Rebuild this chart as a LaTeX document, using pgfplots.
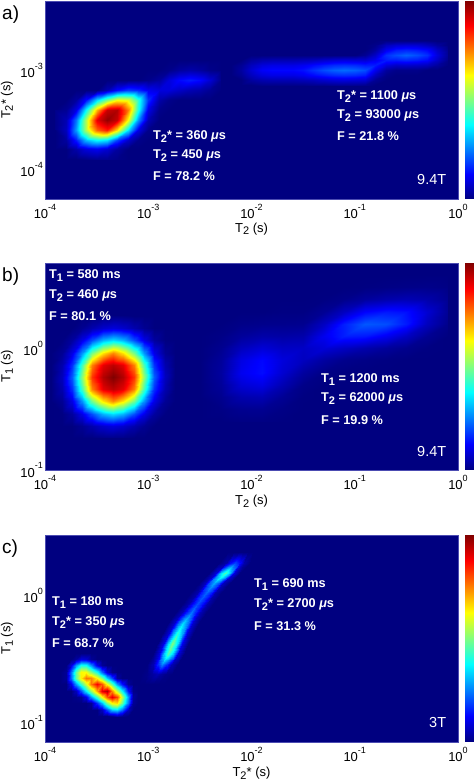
\documentclass[border=0pt]{standalone}
\usepackage{pgfplots}
\pgfplotsset{compat=1.18}
\usepackage{fontspec}
\setmainfont{Liberation Sans}
\newcommand\tp[1]{10\raisebox{.62em}{\fontsize{9}{9}\selectfont #1}}
\newcommand\sub[1]{\raisebox{-.38ex}{\fontsize{11}{11}\selectfont #1}}
\newcommand\us{{\itshape μ}s}
\definecolor{bgblue}{rgb}{0,0,0.502}
\pgfplotsset{
  heatdeco/.style={
    scale only axis, width=413pt,
    xmin=1e-4, xmax=1,
    xtick={1e-4,1e-3,1e-2,1e-1,1},
    xticklabels={\tp{-4},\tp{-3},\tp{-2},\tp{-1},\tp{0}},
    major tick length=0pt, minor tick length=0pt, minor tick num=0,
    tick style={draw=none},
    tick label style={font=\fontsize{13}{13}\selectfont},
    xticklabel style={yshift=-2pt},
    yticklabel style={xshift=1.5pt},
    label style={font=\fontsize{13}{13}\selectfont},
    axis line style={draw=blue!40!gray, line width=.5pt},
    axis background/.style={fill=bgblue},
    axis on top,
    point meta min=0, point meta max=1,
    ylabel style={at={(axis description cs:-0.092,0.5)}, anchor=center, rotate=0},
    xlabel style={at={(axis description cs:0.5,-0.15)}, anchor=center},
  },
  cbardeco/.style={
    scale only axis, width=9pt, xmin=0, xmax=1, ymin=0, ymax=1,
    xtick=\empty, ytick=\empty, axis line style={draw=none},
    point meta min=0, point meta max=1,
  },
}
\begin{document}
\begin{tikzpicture}
\useasboundingbox (0,0) rectangle (474pt,781pt);
% ---------- panel a
\begin{axis}[xmode=log, ymode=log, colormap/jet, heatdeco, at={(45pt,582pt)}, anchor=south west, height=198pt,
  ymin=5e-5, ymax=5e-3, ytick={1e-4,1e-3}, yticklabels={\tp{-4},\tp{-3}},
  xlabel={T\sub{2} (s)}, ylabel={T\sub{2}* (s)}]
\addplot[surf, shader=interp, point meta=explicit, mesh/cols=17] table[row sep=crcr, header=false, meta index=0,
  x expr={10^(-3.9+0.1*mod(\coordindex,17))}, y expr={10^(-2.9-0.1*floor(\coordindex/17))}] {
0\\0\\0\\0\\0\\0\\0\\0\\0\\0\\0\\0\\0\\0\\0\\0\\0\\
0\\0\\0\\0\\0\\0\\0\\0\\0\\0\\0\\0.01\\0.03\\0.04\\0.03\\0.01\\0\\
0\\0\\0\\0\\0\\0\\0\\0\\0\\0.01\\0.03\\0.09\\0.13\\0.15\\0.13\\0.08\\0.01\\
0\\0\\0\\0\\0\\0.05\\0.13\\0.18\\0.16\\0.11\\0.09\\0.09\\0.07\\0.05\\0.04\\0.02\\0\\
0\\0\\0.03\\0.14\\0.35\\0.5\\0.62\\0.6\\0.42\\0.17\\0.04\\0.01\\0\\0\\0\\0\\0\\
0\\0.02\\0.1\\0.38\\0.7\\0.93\\0.95\\0.75\\0.4\\0.1\\0.01\\0\\0\\0\\0\\0\\0\\
0.01\\0.05\\0.24\\0.55\\0.9\\0.98\\0.93\\0.62\\0.27\\0.05\\0\\0\\0\\0\\0\\0\\0\\
0.01\\0.06\\0.28\\0.55\\0.78\\0.85\\0.65\\0.35\\0.1\\0.01\\0\\0\\0\\0\\0\\0\\0\\
0\\0.03\\0.15\\0.31\\0.38\\0.35\\0.19\\0.07\\0.01\\0\\0\\0\\0\\0\\0\\0\\0\\
0\\0\\0.04\\0.09\\0.11\\0.08\\0.03\\0\\0\\0\\0\\0\\0\\0\\0\\0\\0\\
0\\0\\0\\0.01\\0.02\\0.02\\0.01\\0\\0\\0\\0\\0\\0\\0\\0\\0\\0\\
};
\addplot[surf, shader=interp, point meta=explicit, mesh/cols=22] table[row sep=crcr, header=false, meta index=0,
  x expr={10^(-2.2+0.1*mod(\coordindex,22))}, y expr={10^(-2.7-0.05*floor(\coordindex/22))}] {
0\\0\\0\\0\\0\\0\\0\\0\\0\\0\\0\\0\\0\\0\\0\\0.01\\0.01\\0.01\\0.01\\0.01\\0\\0\\
0\\0\\0\\0\\0\\0\\0\\0\\0\\0\\0\\0\\0\\0\\0.01\\0.06\\0.08\\0.085\\0.08\\0.06\\0.03\\0\\
0\\0\\0\\0\\0\\0\\0\\0\\0\\0\\0\\0\\0\\0\\0.03\\0.11\\0.15\\0.16\\0.15\\0.13\\0.07\\0.015\\
0\\0\\0\\0\\0\\0\\0\\0\\0\\0\\0\\0\\0\\0.02\\0.07\\0.17\\0.2\\0.22\\0.2\\0.17\\0.09\\0.02\\
0\\0\\0.03\\0.045\\0.05\\0.05\\0.05\\0.055\\0.06\\0.075\\0.085\\0.09\\0.085\\0.08\\0.11\\0.15\\0.15\\0.16\\0.15\\0.13\\0.07\\0.01\\
0\\0.02\\0.06\\0.09\\0.1\\0.1\\0.1\\0.11\\0.13\\0.15\\0.165\\0.17\\0.165\\0.15\\0.15\\0.09\\0.07\\0.075\\0.07\\0.06\\0.03\\0\\
0\\0.03\\0.08\\0.12\\0.13\\0.13\\0.13\\0.14\\0.17\\0.2\\0.22\\0.23\\0.22\\0.2\\0.11\\0.03\\0.01\\0.01\\0.01\\0\\0\\0\\
0\\0.02\\0.06\\0.09\\0.1\\0.1\\0.1\\0.11\\0.13\\0.15\\0.165\\0.17\\0.165\\0.15\\0.06\\0.01\\0\\0\\0\\0\\0\\0\\
0\\0\\0.03\\0.045\\0.05\\0.05\\0.05\\0.055\\0.06\\0.075\\0.085\\0.09\\0.085\\0.08\\0.02\\0\\0\\0\\0\\0\\0\\0\\
0\\0\\0\\0.01\\0.01\\0.01\\0.01\\0.01\\0.015\\0.015\\0.02\\0.02\\0.02\\0.015\\0\\0\\0\\0\\0\\0\\0\\0\\
};
\end{axis}
\begin{axis}[colormap/jet, cbardeco, at={(464.5pt,582pt)}, anchor=south west, height=198pt]
\addplot[surf, shader=interp, point meta=explicit, mesh/cols=2] table[meta index=2] {
x y m
0 0 0
1 0 0
0 1 1
1 1 1
};
\end{axis}
% ---------- panel b
\begin{axis}[xmode=log, ymode=log, colormap/jet, heatdeco, at={(45pt,311pt)}, anchor=south west, height=207pt,
  ymin=0.1, ymax=5, ytick={0.1,1}, yticklabels={\tp{-1},\tp{0}},
  xlabel={T\sub{2} (s)}, ylabel={T\sub{1} (s)}]
\addplot[surf, shader=interp, point meta=explicit, mesh/cols=13] table[row sep=crcr, header=false, meta index=0,
  x expr={10^(-3.94+0.1*mod(\coordindex,13))}, y expr={10^(0.263-0.1*floor(\coordindex/13))}] {
0\\0\\0\\0\\0\\0.007\\0.008\\0.007\\0\\0\\0\\0\\0\\
0\\0\\0\\0.017\\0.045\\0.075\\0.09\\0.075\\0.045\\0.017\\0\\0\\0\\
0\\0.002\\0.03\\0.1\\0.2\\0.3\\0.34\\0.3\\0.2\\0.1\\0.03\\0.002\\0\\
0\\0.02\\0.1\\0.27\\0.49\\0.65\\0.74\\0.65\\0.49\\0.27\\0.1\\0.02\\0\\
0\\0.045\\0.17\\0.44\\0.75\\0.9\\0.94\\0.9\\0.75\\0.44\\0.17\\0.045\\0\\
0\\0.06\\0.215\\0.51\\0.825\\0.95\\1\\0.95\\0.825\\0.51\\0.215\\0.06\\0\\
0\\0.045\\0.17\\0.44\\0.75\\0.9\\0.94\\0.9\\0.75\\0.44\\0.17\\0.045\\0\\
0\\0.02\\0.1\\0.27\\0.49\\0.65\\0.74\\0.65\\0.49\\0.27\\0.1\\0.02\\0\\
0\\0.002\\0.03\\0.1\\0.2\\0.3\\0.34\\0.3\\0.2\\0.1\\0.03\\0.002\\0\\
0\\0\\0\\0.017\\0.045\\0.075\\0.09\\0.075\\0.045\\0.017\\0\\0\\0\\
0\\0\\0\\0\\0\\0.007\\0.008\\0.007\\0\\0\\0\\0\\0\\
};
\addplot[surf, shader=interp, point meta=explicit, mesh/cols=13] table[row sep=crcr, header=false, meta index=0,
  x expr={10^(-2.5+0.2*mod(\coordindex,13))}, y expr={10^(0.6-0.1*floor(\coordindex/13))}] {
0\\0\\0\\0\\0\\0\\0\\0\\0\\0\\0\\0\\0\\
0\\0\\0\\0\\0\\0\\0\\0\\0.002\\0.005\\0.008\\0.01\\0.005\\
0\\0\\0\\0\\0\\0\\0.002\\0.01\\0.028\\0.042\\0.05\\0.041\\0.016\\
0\\0\\0\\0\\0.003\\0.003\\0.02\\0.065\\0.127\\0.148\\0.139\\0.08\\0.02\\
0\\0\\0.008\\0.012\\0.013\\0.015\\0.066\\0.153\\0.21\\0.2\\0.149\\0.06\\0.01\\
0\\0.006\\0.026\\0.04\\0.036\\0.042\\0.11\\0.153\\0.147\\0.112\\0.067\\0.019\\0\\
0\\0.015\\0.06\\0.085\\0.067\\0.068\\0.085\\0.065\\0.044\\0.027\\0.013\\0.002\\0\\
0\\0.025\\0.097\\0.13\\0.09\\0.062\\0.032\\0.012\\0.006\\0.002\\0\\0\\0\\
0\\0.03\\0.11\\0.135\\0.08\\0.03\\0.005\\0\\0\\0\\0\\0\\0\\
0\\0.024\\0.083\\0.098\\0.05\\0.008\\0\\0\\0\\0\\0\\0\\0\\
0\\0.014\\0.044\\0.05\\0.02\\0.001\\0\\0\\0\\0\\0\\0\\0\\
0\\0.005\\0.016\\0.017\\0.006\\0\\0\\0\\0\\0\\0\\0\\0\\
0\\0\\0.004\\0.004\\0.001\\0\\0\\0\\0\\0\\0\\0\\0\\
};
\end{axis}
\begin{axis}[colormap/jet, cbardeco, at={(464.5pt,311pt)}, anchor=south west, height=207pt]
\addplot[surf, shader=interp, point meta=explicit, mesh/cols=2] table[meta index=2] {
x y m
0 0 0
1 0 0
0 1 1
1 1 1
};
\end{axis}
% ---------- panel c
\begin{axis}[xmode=log, ymode=log, colormap/jet, heatdeco, at={(45pt,39pt)}, anchor=south west, height=207pt,
  ymin=0.07, ymax=3, ytick={0.1,1}, yticklabels={\tp{-1},\tp{0}},
  xlabel={T\sub{2}* (s)}, ylabel={T\sub{1} (s)}]
\addplot[surf, shader=interp, point meta=explicit, mesh/cols=16] table[row sep=crcr, header=false, meta index=0,
  x expr={10^(-3.85+0.05*mod(\coordindex,16))}, y expr={10^(-0.45-0.05*floor(\coordindex/16))}] {
0\\0\\0\\0\\0\\0\\0\\0\\0\\0\\0\\0\\0\\0\\0\\0\\
0\\0\\0\\0.03\\0.09\\0.08\\0.02\\0\\0\\0\\0\\0\\0\\0\\0\\0\\
0\\0\\0.09\\0.27\\0.39\\0.38\\0.26\\0.1\\0.02\\0\\0\\0\\0\\0\\0\\0\\
0\\0.02\\0.23\\0.47\\0.63\\0.62\\0.51\\0.39\\0.22\\0.08\\0.01\\0\\0\\0\\0\\0\\
0\\0.02\\0.23\\0.47\\0.64\\0.76\\0.74\\0.63\\0.5\\0.32\\0.19\\0.03\\0\\0\\0\\0\\
0\\0\\0.1\\0.28\\0.43\\0.58\\0.76\\0.88\\0.79\\0.62\\0.46\\0.27\\0.14\\0.02\\0\\0\\
0\\0\\0\\0.06\\0.2\\0.36\\0.52\\0.71\\0.9\\0.95\\0.74\\0.56\\0.38\\0.15\\0.01\\0\\
0\\0\\0\\0.01\\0.02\\0.1\\0.27\\0.44\\0.62\\0.79\\0.9\\0.81\\0.56\\0.28\\0.03\\0\\
0\\0\\0\\0\\0\\0\\0.02\\0.17\\0.31\\0.5\\0.63\\0.66\\0.48\\0.24\\0.02\\0\\
0\\0\\0\\0\\0\\0\\0\\0\\0.06\\0.19\\0.31\\0.33\\0.23\\0.06\\0\\0\\
0\\0\\0\\0\\0\\0\\0\\0\\0\\0\\0.02\\0.05\\0.02\\0\\0\\0\\
};
\addplot[surf, shader=interp, point meta=explicit, mesh/cols=7] table[row sep=crcr, header=false, meta index=2,
  x expr={10^\thisrowno{0}}, y expr={10^\thisrowno{1}}] {
-3.15 -0.7 0\\-3.09 -0.7 0\\-3.045 -0.7 0\\-3.0 -0.7 0\\-2.955 -0.7 0\\-2.91 -0.7 0\\-2.85 -0.7 0\\
-3.068 -0.62 0\\-3.008 -0.62 0.01\\-2.963 -0.62 0.03\\-2.918 -0.62 0.05\\-2.873 -0.62 0.03\\-2.828 -0.62 0.01\\-2.768 -0.62 0\\
-3.014 -0.54 0\\-2.954 -0.54 0.05\\-2.909 -0.54 0.17\\-2.864 -0.54 0.26\\-2.819 -0.54 0.17\\-2.774 -0.54 0.05\\-2.714 -0.54 0\\
-2.955 -0.46 0\\-2.895 -0.46 0.09\\-2.85 -0.46 0.32\\-2.805 -0.46 0.45\\-2.76 -0.46 0.32\\-2.715 -0.46 0.09\\-2.655 -0.46 0\\
-2.917 -0.38 0\\-2.857 -0.38 0.1\\-2.812 -0.38 0.35\\-2.767 -0.38 0.5\\-2.722 -0.38 0.35\\-2.677 -0.38 0.1\\-2.617 -0.38 0\\
-2.868 -0.3 0\\-2.808 -0.3 0.08\\-2.763 -0.3 0.29\\-2.718 -0.3 0.42\\-2.673 -0.3 0.29\\-2.628 -0.3 0.08\\-2.568 -0.3 0\\
-2.81 -0.22 0\\-2.75 -0.22 0.07\\-2.705 -0.22 0.24\\-2.66 -0.22 0.34\\-2.615 -0.22 0.24\\-2.57 -0.22 0.07\\-2.51 -0.22 0\\
-2.739 -0.14 0\\-2.679 -0.14 0.05\\-2.634 -0.14 0.16\\-2.589 -0.14 0.24\\-2.544 -0.14 0.16\\-2.499 -0.14 0.05\\-2.439 -0.14 0\\
-2.665 -0.06 0\\-2.605 -0.06 0.04\\-2.56 -0.06 0.14\\-2.515 -0.06 0.2\\-2.47 -0.06 0.14\\-2.425 -0.06 0.04\\-2.365 -0.06 0\\
-2.591 0.02 0\\-2.531 0.02 0.04\\-2.486 0.02 0.15\\-2.441 0.02 0.22\\-2.396 0.02 0.15\\-2.351 0.02 0.04\\-2.291 0.02 0\\
-2.513 0.1 0\\-2.453 0.1 0.06\\-2.408 0.1 0.2\\-2.363 0.1 0.29\\-2.318 0.1 0.2\\-2.273 0.1 0.06\\-2.213 0.1 0\\
-2.407 0.18 0\\-2.347 0.18 0.09\\-2.302 0.18 0.31\\-2.257 0.18 0.45\\-2.212 0.18 0.31\\-2.167 0.18 0.09\\-2.107 0.18 0\\
-2.31 0.26 0\\-2.25 0.26 0.04\\-2.205 0.26 0.13\\-2.16 0.26 0.19\\-2.115 0.26 0.13\\-2.07 0.26 0.04\\-2.01 0.26 0\\
-2.23 0.34 0\\-2.17 0.34 0\\-2.125 0.34 0\\-2.08 0.34 0\\-2.035 0.34 0\\-1.99 0.34 0\\-1.93 0.34 0\\
};
\end{axis}
\begin{axis}[colormap/jet, cbardeco, at={(464.5pt,39pt)}, anchor=south west, height=207pt]
\addplot[surf, shader=interp, point meta=explicit, mesh/cols=2] table[meta index=2] {
x y m
0 0 0
1 0 0
0 1 1
1 1 1
};
\end{axis}
% ---------- annotations, positioned in reference pixels
\begin{scope}[x=1pt,y=-1pt,yshift=781pt,
  ann/.style={anchor=base west,inner sep=0pt,text=white,font=\bfseries\fontsize{12.7}{13}\selectfont},
  fld/.style={anchor=base west,inner sep=0pt,text=white,font=\fontsize{14.5}{14.5}\selectfont},
  pan/.style={anchor=base west,inner sep=0pt,font=\fontsize{19}{19}\selectfont}]
\node[pan] at (2,20) {a)};
\node[pan] at (2,282) {b)};
\node[pan] at (2,554) {c)};
\node[ann] at (153,140) {T\sub{2}* = 360 \us};
\node[ann] at (153,159) {T\sub{2} = 450 \us};
\node[ann] at (153,181) {F = 78.2 \%};
\node[ann] at (337,100) {T\sub{2}* = 1100 \us};
\node[ann] at (337,119) {T\sub{2} = 93000 \us};
\node[ann] at (337,141) {F = 21.8 \%};
\node[fld] at (417,185) {9.4T};
\node[ann] at (49,279) {T\sub{1} = 580 ms};
\node[ann] at (49,299) {T\sub{2} = 460 \us};
\node[ann] at (49,321) {F = 80.1 \%};
\node[ann] at (321,383) {T\sub{1} = 1200 ms};
\node[ann] at (321,402) {T\sub{2} = 62000 \us};
\node[ann] at (321,425) {F = 19.9 \%};
\node[fld] at (417,457) {9.4T};
\node[ann] at (52,606) {T\sub{1} = 180 ms};
\node[ann] at (52,626) {T\sub{2}* = 350 \us};
\node[ann] at (52,648) {F = 68.7 \%};
\node[ann] at (254,588) {T\sub{1} = 690 ms};
\node[ann] at (254,608) {T\sub{2}* = 2700 \us};
\node[ann] at (254,631) {F = 31.3 \%};
\node[fld] at (429,728) {3T};
\end{scope}
\end{tikzpicture}
\end{document}
